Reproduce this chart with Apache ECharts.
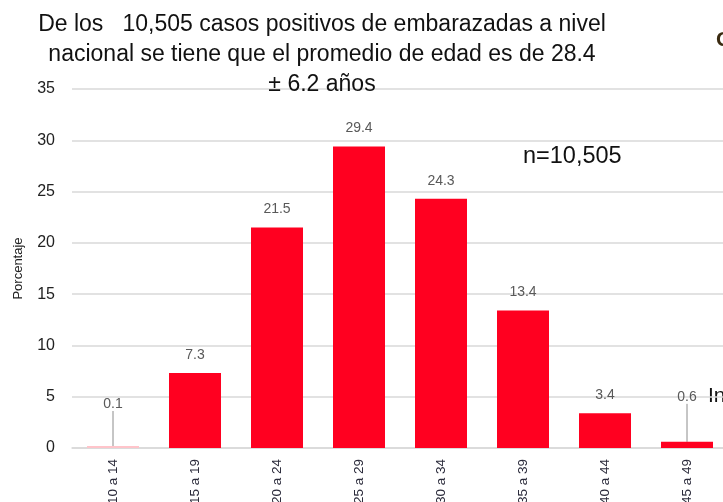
<!DOCTYPE html>
<html>
<head>
<meta charset="utf-8">
<script src="https://cdn.jsdelivr.net/npm/echarts@6/dist/echarts.min.js"></script>
<style>
  html, body { margin: 0; padding: 0; background: #fff; }
  #main { width: 723px; height: 502px; }
</style>
</head>
<body>
<div id="main"></div>
<script>
// datos: porcentaje de embarazadas positivas por grupo de edad
var gruposEdad = ['10 a 14', '15 a 19', '20 a 24', '25 a 29', '30 a 34', '35 a 39', '40 a 44', '45 a 49', ''];
var porcentaje = [0.1, 7.3, 21.5, 29.4, 24.3, 13.4, 3.4, 0.6, null];
var tituloLineas = [
  'De los   10,505 casos positivos de embarazadas a nivel',
  'nacional se tiene que el promedio de edad es de 28.4',
  '± 6.2 años'
];
// barras pequeñas con etiqueta elevada y linea guia
var conGuia = [0, 7];

var fuente = 'Liberation Sans Narrow, Arial Narrow, Liberation Sans, sans-serif';

var datosBarras = porcentaje.map(function (v, i) {
  if (i === 0) {
    return { value: v, labelLine: { show: true }, itemStyle: { color: '#ffc4ca' } };
  }
  if (conGuia.indexOf(i) >= 0) {
    return { value: v, labelLine: { show: true } };
  }
  return v;
});

var chart = echarts.init(document.getElementById('main'));

var option = {
  animation: false,
  title: {
    text: tituloLineas.join('\n'),
    left: 317,
    textAlign: 'center',
    top: 5,
    textStyle: {
      fontFamily: fuente,
      fontSize: 23,
      fontWeight: 'normal',
      color: '#111',
      lineHeight: 30
    }
  },
  graphic: [
    { type: 'text', left: 523, top: 145, style: { text: 'n=10,505', font: '23.5px ' + fuente, fill: '#111' } },
    { type: 'text', left: 708, top: 386, style: { text: 'In', font: '21px ' + fuente, fill: '#111' } },
    { type: 'text', left: 716, top: 30, style: { text: 'C', font: 'bold 21px ' + fuente, fill: '#3a2a10' } }
  ],
  grid: { left: 72, top: 89, bottom: 54, right: -87, outerBoundsMode: 'none' },
  xAxis: {
    type: 'category',
    data: gruposEdad,
    axisTick: { show: false },
    axisLine: { lineStyle: { color: '#d9d9d9', width: 1.5 } },
    axisLabel: {
      rotate: 90,
      interval: 0,
      margin: 11,
      color: '#2a2a3a',
      fontSize: 13.5,
      fontFamily: fuente
    }
  },
  yAxis: {
    type: 'value',
    min: 0,
    max: 35,
    interval: 5,
    name: 'Porcentaje',
    nameLocation: 'middle',
    nameRotate: 90,
    nameGap: 47,
    nameTextStyle: { fontSize: 13, color: '#222', fontFamily: fuente },
    axisLine: { show: false },
    axisTick: { show: false },
    axisLabel: { color: '#222', fontSize: 16, margin: 17, fontFamily: fuente },
    splitLine: { lineStyle: { color: '#d9d9d9', width: 1.5 } }
  },
  series: [{
    type: 'bar',
    data: datosBarras,
    barWidth: 52,
    barMinHeight: 2,
    itemStyle: { color: '#ff0020' },
    label: {
      show: true,
      position: 'top',
      distance: 11,
      color: '#595959',
      fontSize: 14,
      fontFamily: fuente
    },
    labelLayout: function (params) {
      if (params.dataIndex === 0) return { dy: -24 };
      if (params.dataIndex === 7) return { dy: -27 };
      return {};
    },
    labelLine: { show: false, lineStyle: { color: '#8c8c8c', width: 1 } }
  }]
};

chart.setOption(option);
</script>
</body>
</html>
